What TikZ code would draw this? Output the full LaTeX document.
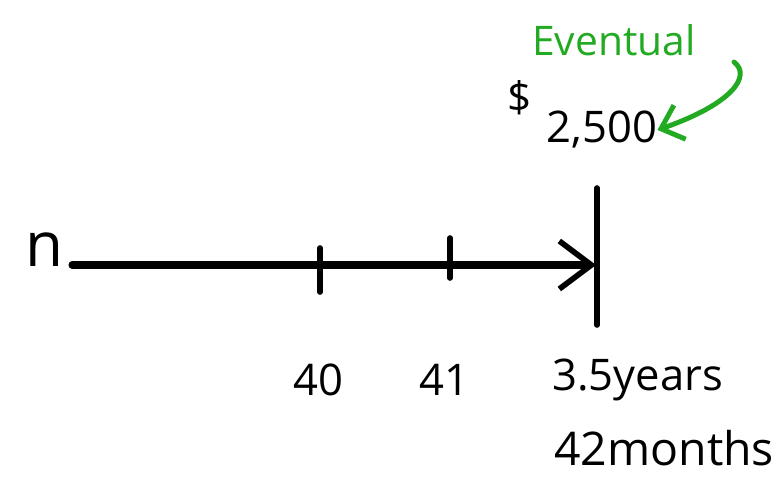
\documentclass[tikz,border=0pt]{standalone}
\usepackage{fontspec}
\setmainfont{Open Sans}
\usepackage{tikz}
\usetikzlibrary{arrows.meta,calc,positioning}
\definecolor{markgreen}{RGB}{34,170,34}
\tikzset{
  axisline/.style = {line width=5pt, line cap=round, -{Straight Barb[length=8mm,width=12mm,line width=4pt]}},
  tick/.style     = {line width=4pt, line cap=round},
  lbl/.style      = {font=\fontsize{31}{36}\selectfont, inner sep=0pt},
  greenlbl/.style = {font=\fontsize{29}{32}\selectfont, text=markgreen, inner sep=0pt},
  pointer/.style  = {line width=3.5pt, line cap=round, markgreen, -{Straight Barb[length=5mm,width=9mm,line width=3.5pt]}},
}
\begin{document}
\begin{tikzpicture}
  \useasboundingbox (0,0) rectangle (19.55,12.2);
  \node[lbl, font=\fontsize{44}{48}\selectfont] (n) at (1.1,5.95) {n};
  \coordinate (start) at (1.8,5.575);
  \coordinate (stop) at (14.9,5.575);
  \draw[axisline] (start) -- (stop);
  % ticks
  \coordinate (t40top) at (8.0,6.0);   \coordinate (t40bot) at (8.0,4.9);
  \coordinate (t41top) at (11.25,6.25); \coordinate (t41bot) at (11.25,5.25);
  \coordinate (endtop) at (14.925,7.5); \coordinate (endbot) at (14.925,4.075);
  \draw[tick] (t40top) -- (t40bot);
  \draw[tick] (t41top) -- (t41bot);
  \draw[tick] (endtop) -- (endbot);
  % labels
  \node[lbl] (l40) at (7.95,2.7) {40};
  \node[lbl] (l41) at (11.1,2.7) {41};
  \node[lbl, anchor=west] (years) at (13.8,2.7) {3.5years};
  \node[lbl, anchor=west, font=\fontsize{33}{36}\selectfont] (months) at (13.85,1.0) {42months};
  % payment
  \node[lbl, font=\fontsize{30}{34}\selectfont] (dollar) at (13.0,9.75) {\$};
  \node[lbl] (amount) at (15.05,8.95) {2,500};
  \node[greenlbl] (eventual) at (15.35,11.2) {Eventual};
  \coordinate (hook) at (18.35,10.65);
  \draw[pointer] (hook) .. controls (18.8,10.3) and (18.3,9.6) .. (amount.east);
\end{tikzpicture}
\end{document}
